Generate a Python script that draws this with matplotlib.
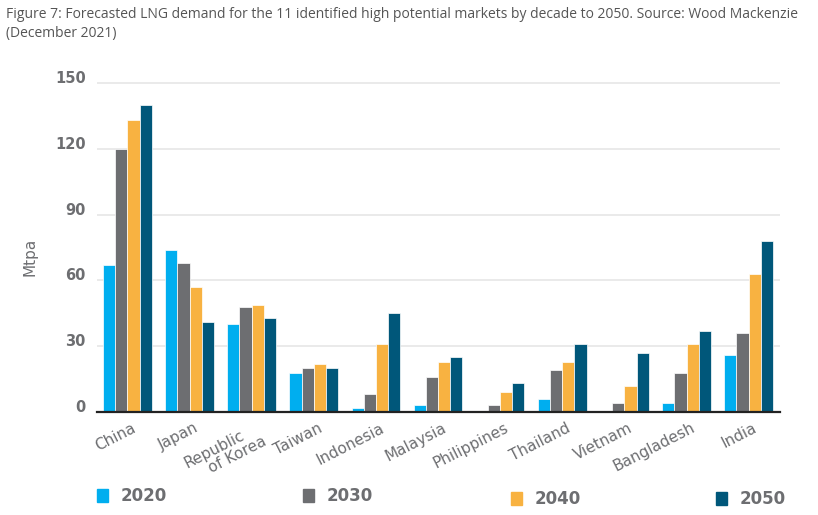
import numpy as np
import matplotlib.pyplot as plt
from matplotlib.patches import Rectangle
from matplotlib.transforms import ScaledTranslation

MARKETS = ['China', 'Japan', 'Republic\n    of Korea', 'Taiwan', 'Indonesia', 'Malaysia',
           'Philippines', 'Thailand', 'Vietnam', 'Bangladesh', 'India']
YEARS = ['2020', '2030', '2040', '2050']
D2020 = [67, 74, 40, 18, 2, 3, 0, 6, 0, 4, 26]
D2030 = [120, 68, 48, 20, 8, 16, 3, 19, 4, 18, 36]
D2040 = [133, 57, 49, 22, 31, 23, 9, 23, 12, 31, 63]
D2050 = [140, 41, 43, 20, 45, 25, 13, 31, 27, 37, 78]
COLORS = ['#00aeef', '#6d6e71', '#f8b241', '#00577a']

GRAY = '#6d6e71'

fig = plt.figure(figsize=(8.18, 5.15), dpi=100)
ax = fig.add_axes([97 / 818, 1 - 412 / 515, 683 / 818, (412 - 70) / 515])

x = np.arange(len(MARKETS))
w = 0.196
series = [D2020, D2030, D2040, D2050]
for i, vals in enumerate(series):
    ax.bar(x + (i - 1.5) * w, vals, width=w, color=COLORS[i],
           edgecolor='white', linewidth=0.5, zorder=3)

ax.set_xlim(-0.489, 10.505)
ax.set_ylim(0, 150 * (412 - 70) / (412 - 83))
ax.set_yticks([0, 30, 60, 90, 120, 150])
ax.yaxis.grid(True, color='#e6e6e6', linewidth=1.2, zorder=0)
for s in ['top', 'right', 'left']:
    ax.spines[s].set_visible(False)
ax.spines['bottom'].set_color('#222222')
ax.spines['bottom'].set_linewidth(1.6)
ax.spines['bottom'].set_zorder(4)
ax.tick_params(axis='y', length=0, pad=8, labelsize=10.5, labelcolor=GRAY)
for t in ax.get_yticklabels():
    t.set_fontweight('bold')
    t.set_va('baseline')
ax.set_xticks(x)
ax.set_xticklabels(MARKETS, rotation=27, ha='right', rotation_mode='anchor',
                   fontsize=11, color=GRAY, linespacing=1.0, multialignment='left')
ax.tick_params(axis='x', length=0, pad=6)
shift = ScaledTranslation(4 / 100, 0, fig.dpi_scale_trans)
for lbl in ax.get_xticklabels():
    lbl.set_transform(lbl.get_transform() + shift)

fig.text(30 / 818, 1 - 257 / 515, 'Mtpa', rotation=90, fontsize=11, color=GRAY,
         ha='center', va='center')

fig.text(6 / 818, 1 - 14 / 515,
         'Figure 7: Forecasted LNG demand for the 11 identified high potential markets by decade to 2050. Source: Wood Mackenzie',
         fontsize=10, color='#555555', family='Open Sans', va='center', ha='left')
fig.text(6 / 818, 1 - 34 / 515, '(December 2021)',
         fontsize=10, color='#555555', family='Open Sans', va='center', ha='left')

# legend
leg_x = [97, 303, 511, 716]
leg_y = [496, 496, 499, 499]
for i, yr in enumerate(YEARS):
    fig.patches.append(Rectangle((leg_x[i] / 818, 1 - (leg_y[i] + 6) / 515), 11 / 818, 13 / 515,
                                 transform=fig.transFigure, color=COLORS[i]))
    fig.text((leg_x[i] + 24) / 818, 1 - leg_y[i] / 515, yr, fontsize=12, fontweight='bold',
             color=GRAY, va='center', ha='left')

fig.savefig('out.png', dpi=100)
